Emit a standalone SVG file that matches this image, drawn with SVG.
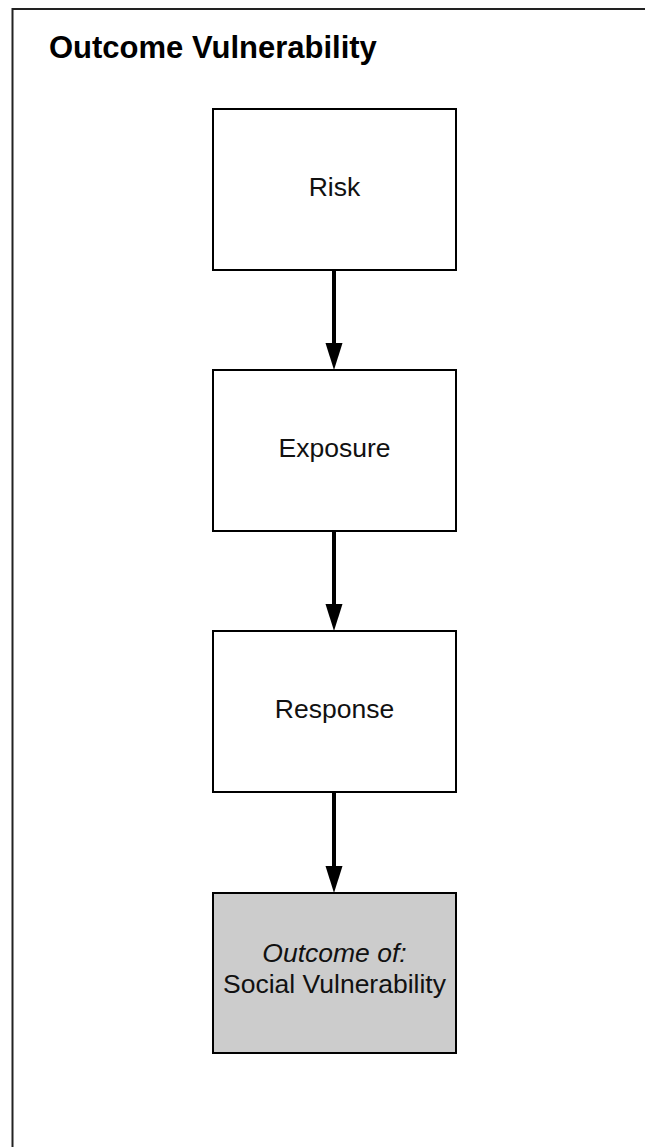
<svg xmlns="http://www.w3.org/2000/svg" width="645" height="1147" viewBox="0 0 645 1147">
<style>
.frame{fill:none;stroke:#222;stroke-width:2}
.box{fill:#fff;stroke:#000;stroke-width:2}
.gray{fill:#cccccc}
.lbl{font-family:"Liberation Sans",Arial,sans-serif;font-size:26.5px;fill:#111;text-anchor:middle}
.title{font-family:"Liberation Sans",Arial,sans-serif;font-size:31px;font-weight:bold;fill:#000}
.edge{stroke:#000;stroke-width:4;fill:none}
</style>
<rect x="0" y="0" width="645" height="1147" fill="#fff"/>
<rect class="frame" x="12.5" y="9" width="700" height="1200"/>
<g id="title"><text class="title" x="49" y="58">Outcome Vulnerability</text></g>
<g id="connectors">
<path d="M334,271 L334,343" class="edge"/>
<path d="M325.5,343 L342.5,343 L334,370 Z" fill="#000"/>
<path d="M334,532 L334,604" class="edge"/>
<path d="M325.5,604 L342.5,604 L334,631 Z" fill="#000"/>
<path d="M334,793 L334,866" class="edge"/>
<path d="M325.5,866 L342.5,866 L334,893 Z" fill="#000"/>
</g>
<g id="risk"><rect class="box" x="213" y="109" width="243" height="161"/><text class="lbl" x="334.5" y="196">Risk</text></g>
<g id="exposure"><rect class="box" x="213" y="370" width="243" height="161"/><text class="lbl" x="334.5" y="457">Exposure</text></g>
<g id="response"><rect class="box" x="213" y="631" width="243" height="161"/><text class="lbl" x="334.5" y="718">Response</text></g>
<g id="outcome"><rect class="box gray" x="213" y="893" width="243" height="160"/><text class="lbl" x="334.5" y="962" font-style="italic">Outcome of:</text><text class="lbl" x="334.5" y="993">Social Vulnerability</text></g>
</svg>
